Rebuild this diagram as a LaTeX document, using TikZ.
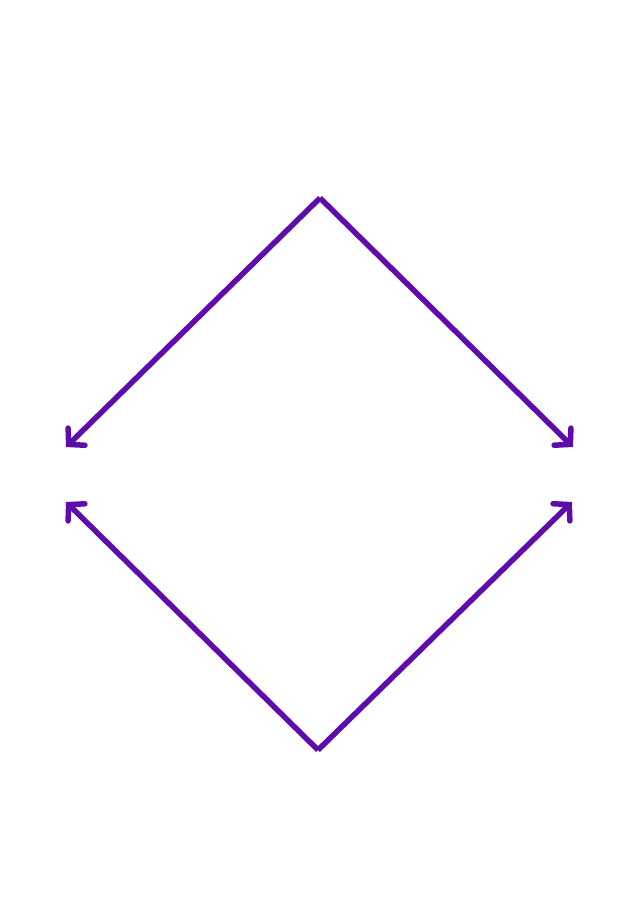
\documentclass[tikz,border=0pt]{standalone}
\usetikzlibrary{arrows.meta}
\definecolor{arrowpurple}{RGB}{94,12,172}
\begin{document}
\begin{tikzpicture}[x=1pt, y=-1pt, arrowline/.style={line width=5.5pt, arrowpurple, -{Straight Barb[length=11pt, width=24pt, line cap=round]}}]
			% Fix the page size
			\useasboundingbox (0,0) rectangle (636,900);

			% Corners of the diamond
			\coordinate (top) at (320,198);
			\coordinate (bottom) at (318,750);
			\coordinate (upleft) at (66,447);
			\coordinate (upright) at (573,447);
			\coordinate (lowleft) at (66,502);
			\coordinate (lowright) at (572,502);

			% Draw the arrows from the top corner
			\draw[arrowline] (top) -- (upleft);
			\draw[arrowline] (top) -- (upright);

			% Draw the arrows from the bottom corner
			\draw[arrowline] (bottom) -- (lowleft);
			\draw[arrowline] (bottom) -- (lowright);

		\end{tikzpicture}
\end{document}
